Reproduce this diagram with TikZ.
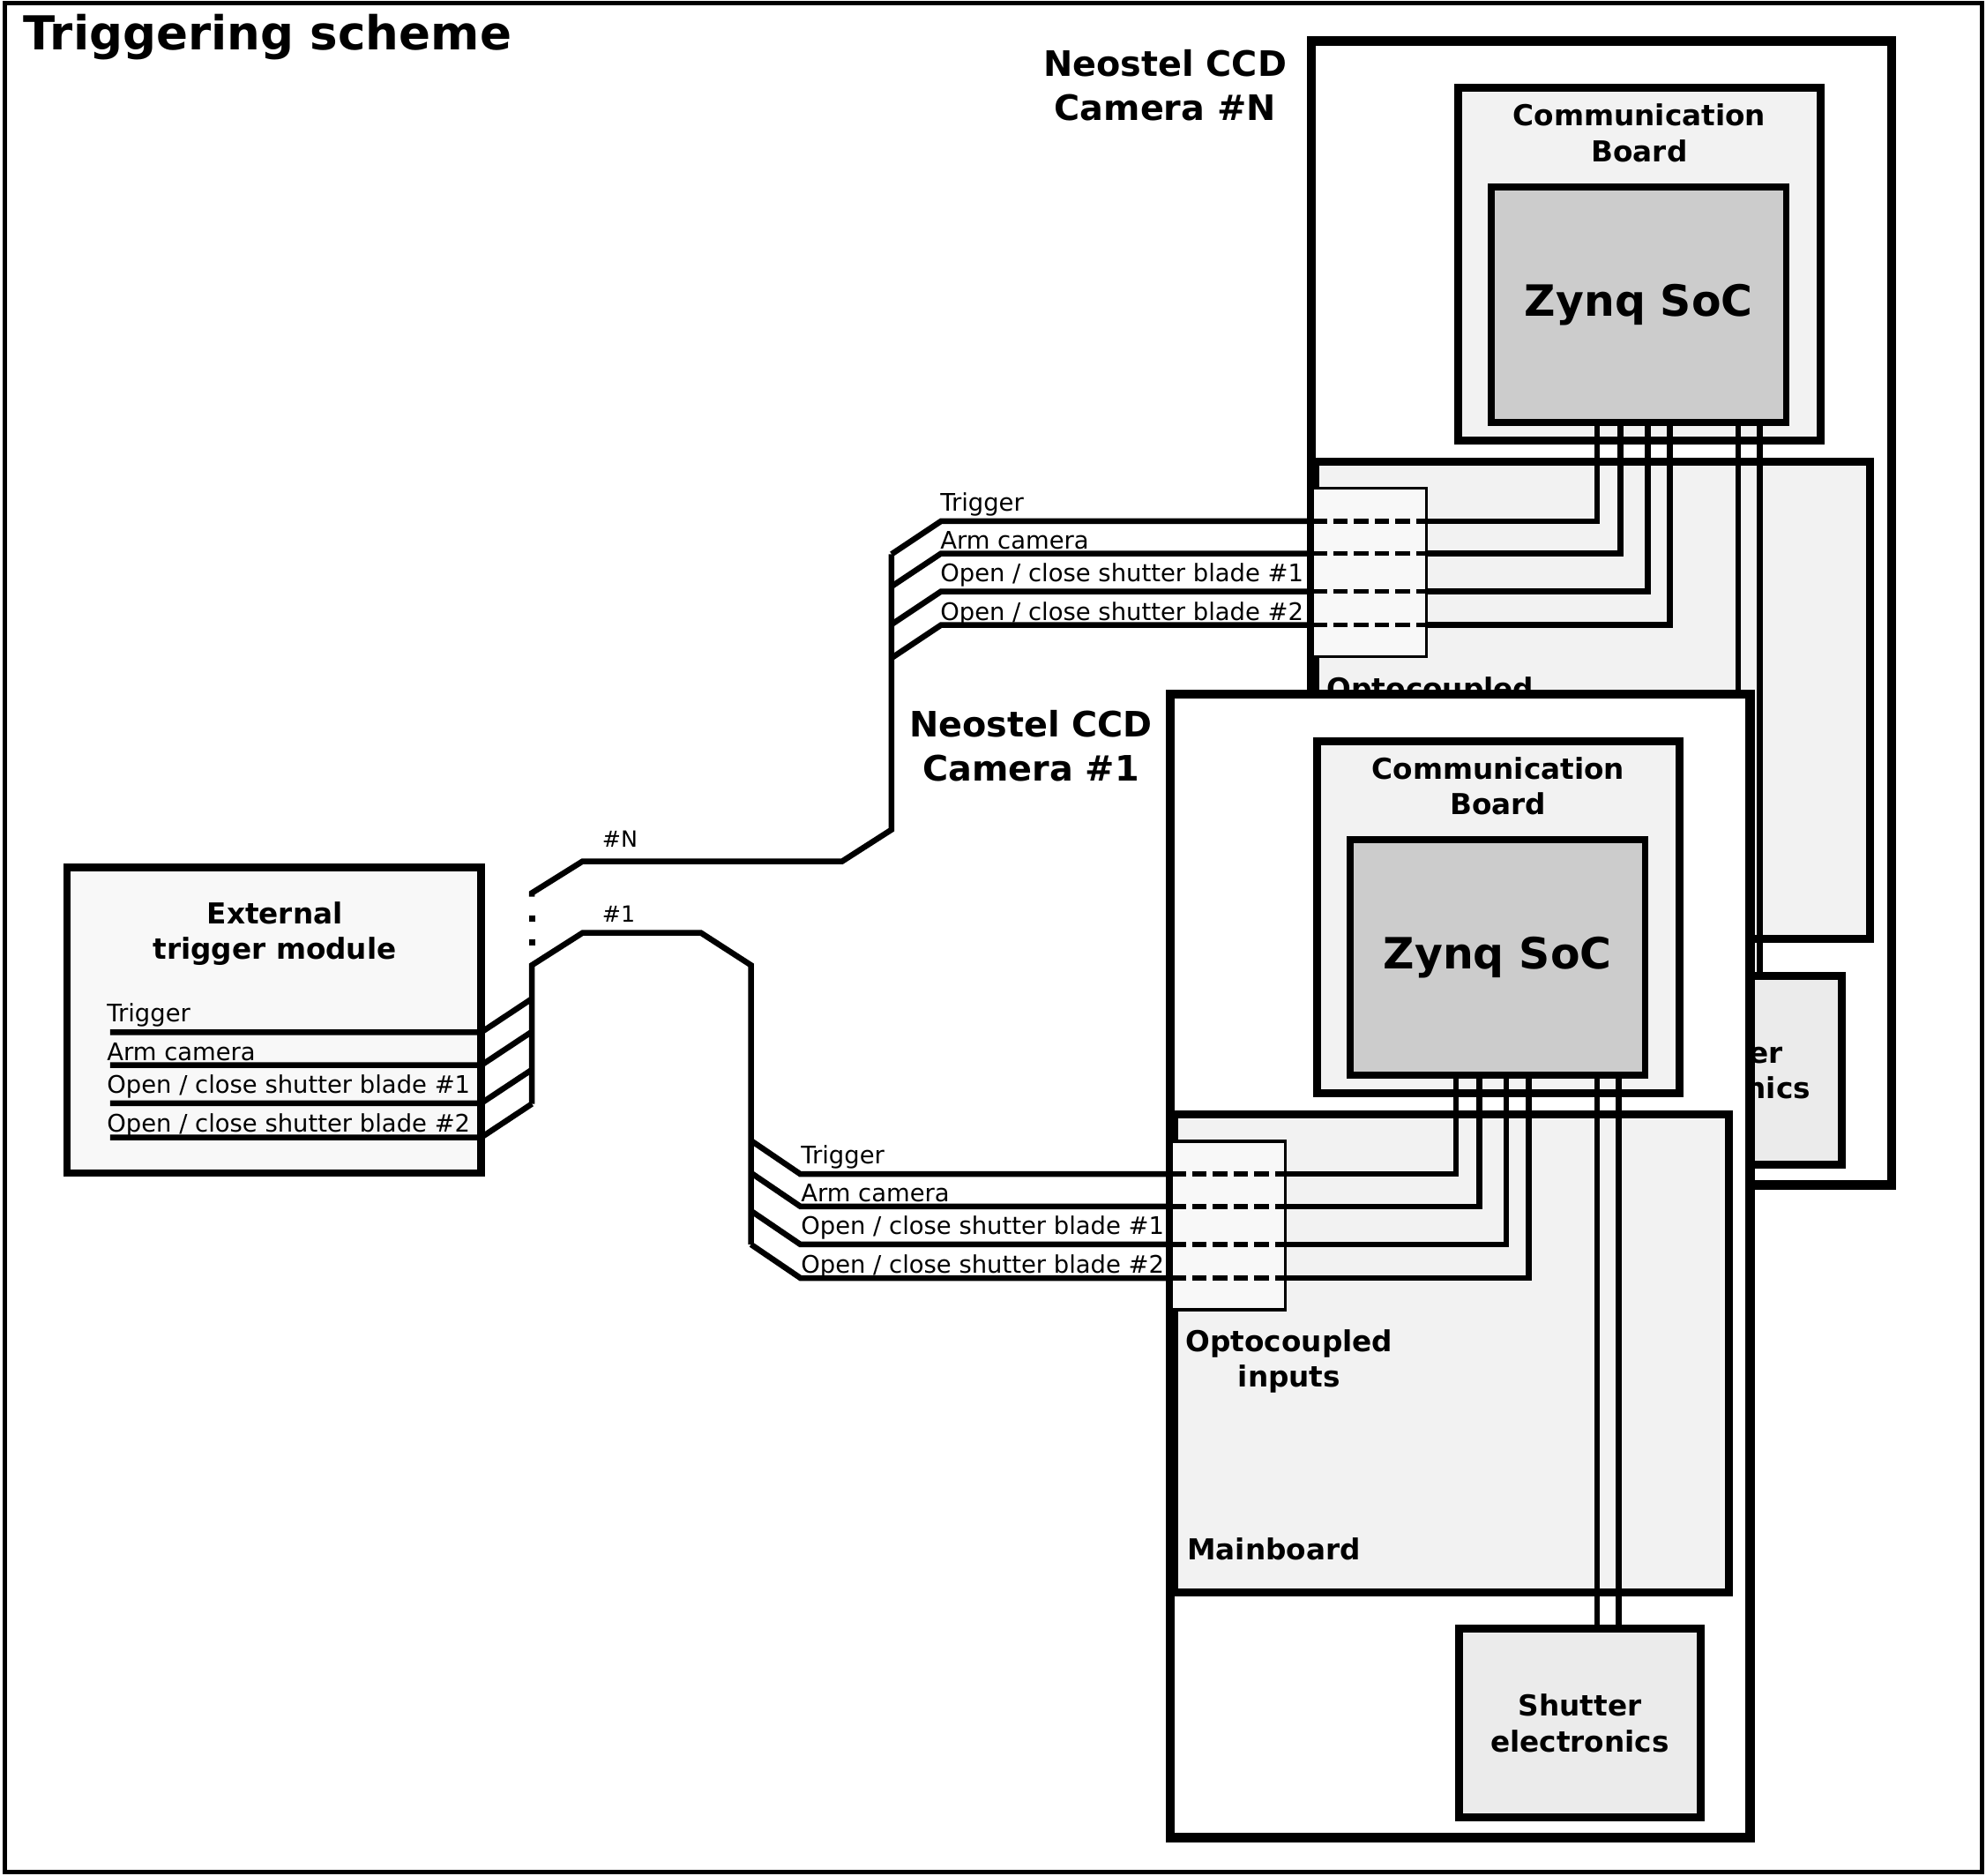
\documentclass[tikz,border=0pt]{standalone}
\usepackage{fontspec}
\setmainfont{DejaVu Sans}
\usetikzlibrary{positioning,calc}
\definecolor{boardfill}{HTML}{F2F2F2}
\definecolor{socfill}{HTML}{CCCCCC}
\definecolor{optofill}{HTML}{F8F8F8}
\definecolor{shutfill}{HTML}{EBEBEB}

\begin{document}
\begin{tikzpicture}[x=0.1436mm,y=-0.1436mm,
    boxsize/.style 2 args={minimum width=#1*0.1436mm,minimum height=#2*0.1436mm},
    box/.style={draw,inner sep=0pt,outer sep=0pt,anchor=north west},
    camerabox/.style={box,fill=white,line width=1.05mm},
    boardbox/.style={box,fill=boardfill,line width=0.9mm},
    socbox/.style={box,fill=socfill,line width=0.75mm},
    optobox/.style={box,fill=optofill,line width=0.33mm},
    shutbox/.style={box,fill=shutfill,line width=0.9mm},
    wire/.style={line width=0.65mm},
    optowire/.style={line width=0.55mm,dash pattern=on 1.65mm off 0.7mm},
    boldlbl/.style={inner sep=0pt,align=center,font=\fontsize{9.3}{11.4}\selectfont\bfseries},
    camlbl/.style={inner sep=0pt,align=center,font=\fontsize{11.3}{14.3}\selectfont\bfseries},
    siglbl/.style={inner sep=0pt,anchor=base west,font=\fontsize{7.8}{9}\selectfont}]
  \useasboundingbox (0,0) rectangle (1568.2,1480.5);
  \draw[line width=0.5mm] (3.5,2.5) rectangle (1564.8,1477.8);
  \node[anchor=base west,inner sep=0pt,font=\fontsize{15.1}{18}\selectfont\bfseries] (title) at (18,39.5) {Triggering scheme};

  % the two cameras, #N behind #1
  \foreach \cam/\dx/\dy in {N/111.5/-515.5,1/0/0}{
    \begin{scope}[shift={(\dx,\dy)}]
      \node[camerabox,boxsize={458}{903}] (cam\cam) at (924,548) {};
      \node[boardbox,boxsize={286}{278}] (comm\cam) at (1040,585) {};
      \node[socbox,boxsize={233}{186}] (zynq\cam) at (1066,663) {};
      \node[boardbox,boxsize={438}{377}] (main\cam) at (927,880) {};
      \node[optobox,boxsize={90}{133}] (opto\cam) at (925,901) {};
      \node[shutbox,boxsize={191}{149}] (shut\cam) at (1152,1286) {};
      \node[boldlbl] (commtxt\cam) at (1183,620.5) {Communication\\Board};
      \node[font=\fontsize{13.9}{16}\selectfont\bfseries] (zynqtxt\cam) at (zynq\cam) {Zynq SoC};
      \node[boldlbl] (optotxt\cam) at (1018,1075) {Optocoupled\\inputs};
      \node[boldlbl,anchor=west] (maintxt\cam) at (937,1223) {Mainboard};
      \node[boldlbl] (shuttxt\cam) at (shut\cam) {Shutter\\electronics};
      % trigger lines from the SoC through the optocouplers
      \foreach \n/\wx/\wy in {1/83.7/26,2/102/51.5,3/123.5/81.5,4/141/108}{
        \coordinate (pin\cam\n) at ($(zynq\cam.south west)+(\wx,0)$);
        \coordinate (out\cam\n) at ($(opto\cam.north east)+(0,\wy)$);
        \coordinate (in\cam\n) at ($(opto\cam.north west)+(0,\wy)$);
        \draw[wire] (pin\cam\n) |- (out\cam\n);
        \draw[optowire] (in\cam\n) -- (out\cam\n);
      }
      % shutter lines
      \foreach \sx in {195,212}
        \draw[wire] ($(zynq\cam.south west)+(\sx,0)$) -- ($(shut\cam.north west)+(\sx-86,0)$);
    \end{scope}
  }
  \node[camlbl] (camlblN) at (920,67.5) {Neostel CCD\\Camera \#N};
  \node[camlbl] (camlbl1) at (814,589) {Neostel CCD\\Camera \#1};

  % external trigger module
  \node[box,fill=optofill,line width=0.85mm,boxsize={327}{241}] (ext) at (53,685) {};
  \node[boldlbl] (exttxt) at (217,737) {External\\trigger module};
  \coordinate (hub) at (420,762);
  \coordinate (hubN) at (420,708);
  \foreach \n/\y/\ly/\t in {1/815/8/Trigger,2/841/4/Arm camera,3/871/8/{Open / close shutter blade \#1},4/898/4/{Open / close shutter blade \#2}}{
    \coordinate (extin\n) at (87,\y);
    \coordinate (extbus\n) at ($(extin\n -| ext.east)+(40,-26.5)$);
    \draw[wire] (extin\n) -- (extin\n -| ext.east) -- (extbus\n);
    \node[siglbl] (extsig\n) at ($(extin\n)+(-3,-\ly)$) {\t};
  }

  % cable to camera #1
  \coordinate (bendcol1) at (632,0);
  \coordinate (bus1top) at (593,762);
  \foreach \n/\ly/\t in {1/8/Trigger,2/3.5/Arm camera,3/8/{Open / close shutter blade \#1},4/3.5/{Open / close shutter blade \#2}}{
    \coordinate (bend1\n) at (in1\n -| bendcol1);
    \coordinate (bus1\n) at ($(bend1\n)+(-39,-26.5)$);
    \draw[wire] (in1\n) -- (bend1\n) -- (bus1\n);
    \node[siglbl] (sig1\n) at ($(bend1\n)+(0,-\ly)$) {\t};
  }
  \draw[wire] (extbus4) -- (hub) -- ++(40,-25.5) -- ++(93.5,0) -- (bus1top) -- (bus14);

  % cable to camera #N
  \coordinate (bendcolN) at (743,0);
  \coordinate (busNbot) at (704,655);
  \foreach \n/\ly/\t in {1/8/Trigger,2/3.5/Arm camera,3/8/{Open / close shutter blade \#1},4/3.5/{Open / close shutter blade \#2}}{
    \coordinate (bendN\n) at (inN\n -| bendcolN);
    \coordinate (busN\n) at ($(bendN\n)+(-39,26)$);
    \draw[wire] (inN\n) -- (bendN\n) -- (busN\n);
    \node[siglbl] (sigN\n) at ($(bendN\n)+(-1,-\ly)$) {\t};
  }
  \draw[wire] (hubN) -- ++(0,-3) -- ++(40,-25) -- ++(205,0) -- (busNbot) -- (busN1);
  \fill (417.5,723) rectangle ++(5,5);
  \fill (417.5,741.5) rectangle ++(5,5);
  \node[siglbl,font=\fontsize{7.2}{9}\selectfont] (tagN) at (475,669) {\#N};
  \node[siglbl,font=\fontsize{7.2}{9}\selectfont] (tag1) at (475,728) {\#1};
\end{tikzpicture}
\end{document}
